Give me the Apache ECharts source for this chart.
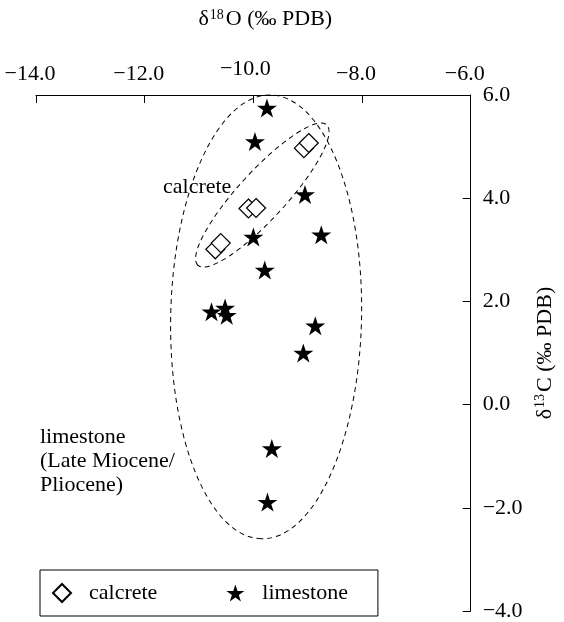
<!DOCTYPE html>
<html>
<head>
<meta charset="utf-8">
<script src="https://cdn.jsdelivr.net/npm/echarts@6/dist/echarts.min.js"></script>
<style>
  html, body { margin: 0; padding: 0; background: #fff; }
  #chart { width: 564px; height: 622px; }
</style>
</head>
<body>
<div id="chart"></div>
<script>
// Stable isotope values (per mil, PDB)
const calcreteO = [-9.07, -8.98, -10.09, -9.95, -10.70, -10.60];
const calcreteC = [4.97, 5.07, 3.80, 3.81, 3.01, 3.13];

const limestoneO = [-9.75, -9.97, -9.05, -10.00, -8.75, -9.79, -10.77, -10.52, -10.49, -8.86, -9.08, -9.66, -9.74];
const limestoneC = [5.75, 5.10, 4.07, 3.25, 3.29, 2.61, 1.80, 1.87, 1.73, 1.53, 1.00, -0.85, -1.89];

// Group envelopes: major-axis end points (O, C, O, C) and minor/major ratio
const calcreteEnvelope = [-11.02, 2.70, -8.65, 5.42, 0.25];
const limestoneEnvelope = [-9.85, -2.60, -9.68, 6.00, 0.43];

// Axis tick values
const xTicks = [-14, -12, -10, -8, -6];
const yTicks = [-4, -2, 0, 2, 4, 6];

const FONT = '"Liberation Serif", "DejaVu Serif", serif';
const FS = 22;
const STAR = 'path://M0,-1 L0.2245,-0.309 L0.951,-0.309 L0.363,0.118 L0.588,0.809 L0,0.382 L-0.588,0.809 L-0.363,0.118 L-0.951,-0.309 L-0.2245,-0.309 Z';

const fmt = v => (v < 0 ? '\u2212' : '') + Math.abs(v).toFixed(1);
const zip = (a, b) => a.map((v, i) => [v, b[i]]);

function renderEnvelope(params, api) {
  const p1 = api.coord([api.value(0), api.value(1)]);
  const p2 = api.coord([api.value(2), api.value(3)]);
  const dx = p2[0] - p1[0], dy = p2[1] - p1[1];
  const a = Math.sqrt(dx * dx + dy * dy) / 2;
  const b = a * api.value(4);
  return {
    type: 'ellipse',
    x: (p1[0] + p2[0]) / 2,
    y: (p1[1] + p2[1]) / 2,
    rotation: -Math.atan2(dy, dx),
    shape: { cx: 0, cy: 0, rx: a, ry: b },
    style: { fill: null, stroke: '#000', lineWidth: 1, lineDash: [5, 4] },
    silent: true
  };
}

const titleRich = {
  t: { fontFamily: FONT, fontSize: FS, color: '#000' },
  s: { fontFamily: FONT, fontSize: 14, color: '#000', padding: [0, 2, 9, 1] }
};

const chart = echarts.init(document.getElementById('chart'));
chart.setOption({
  animation: false,
  backgroundColor: '#fff',
  textStyle: { fontFamily: FONT, color: '#000' },
  grid: { left: 36, right: 78, top: 95, bottom: 5 },
  xAxis: {
    type: 'value',
    position: 'top',
    min: xTicks[0], max: xTicks[xTicks.length - 1], interval: 2,
    splitLine: { show: false },
    axisLine: { show: true, onZero: false, lineStyle: { color: '#000', width: 1 } },
    axisTick: { show: true, inside: true, length: 8, lineStyle: { color: '#000' } },
    axisLabel: {
      fontFamily: FONT, fontSize: FS, color: '#000', margin: 10,
      padding: [0, 12, 0, 0],
      formatter: v => v === -10 ? '{up|' + fmt(v) + '}' : fmt(v),
      rich: { up: { fontFamily: FONT, fontSize: FS, color: '#000', padding: [0, 4, 5, 0] } }
    },
    name: '{t|\u03b4}{s|18}{t|O (\u2030 PDB)}',
    nameLocation: 'middle',
    nameGap: 64,
    nameTextStyle: { padding: [0, 0, 0, 24], rich: titleRich }
  },
  yAxis: {
    type: 'value',
    position: 'right',
    min: yTicks[0], max: yTicks[yTicks.length - 1], interval: 2,
    splitLine: { show: false },
    axisLine: { show: true, onZero: false, lineStyle: { color: '#000', width: 1 } },
    axisTick: { show: true, inside: true, length: 8, lineStyle: { color: '#000' } },
    axisLabel: { fontFamily: FONT, fontSize: FS, color: '#000', margin: 12, formatter: fmt },
    name: '{t|\u03b4}{s|13}{t|C (\u2030 PDB)}',
    nameLocation: 'middle',
    nameGap: 60,
    nameTextStyle: { rich: titleRich }
  },
  legend: {
    left: 40, top: 570,
    orient: 'horizontal',
    borderColor: '#000', borderWidth: 1,
    padding: [12, 30, 12, 12],
    itemGap: 69,
    itemWidth: 18, itemHeight: 18,
    textStyle: { fontFamily: FONT, fontSize: FS, color: '#000', padding: [0, 0, 0, 13] },
    data: [
      { name: 'calcrete', icon: 'diamond' },
      { name: 'limestone', icon: STAR }
    ]
  },
  graphic: [
    {
      type: 'text', left: 163, top: 176,
      style: { text: 'calcrete', font: FS + 'px ' + FONT, fill: '#000' }
    },
    {
      type: 'text', left: 40, top: 425,
      style: {
        text: 'limestone\n(Late Miocene/\nPliocene)',
        font: FS + 'px ' + FONT, fill: '#000', lineHeight: 24
      }
    }
  ],
  series: [
    {
      type: 'custom',
      name: 'envelopes',
      renderItem: renderEnvelope,
      encode: { x: [0, 2], y: [1, 3] },
      data: [limestoneEnvelope, calcreteEnvelope],
      silent: true,
      z: 1
    },
    {
      type: 'scatter',
      name: 'calcrete',
      symbol: 'diamond',
      symbolSize: 19,
      itemStyle: { color: '#fff', borderColor: '#000', borderWidth: 1.2, opacity: 1 },
      data: zip(calcreteO, calcreteC),
      z: 3
    },
    {
      type: 'scatter',
      name: 'limestone',
      symbol: STAR,
      symbolSize: [20, 19],
      itemStyle: { color: '#000', opacity: 1 },
      data: zip(limestoneO, limestoneC),
      z: 4
    }
  ]
});
</script>
</body>
</html>
